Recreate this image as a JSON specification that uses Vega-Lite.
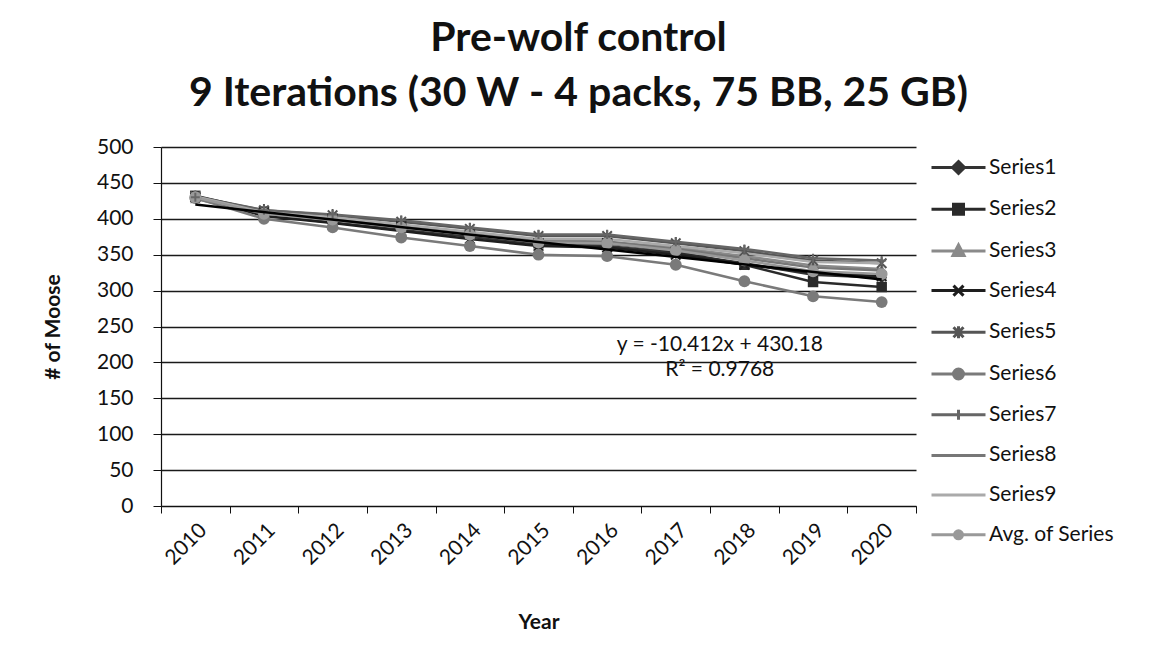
{
  "$schema": "https://vega.github.io/schema/vega-lite/v6.json",
  "width": 755,
  "height": 359,
  "autosize": {"type": "none"},
  "padding": {"left": 161, "top": 147, "right": 259, "bottom": 147},
  "background": "white",
  "config": {
    "font": "Lato",
    "view": {"stroke": null},
    "legend": {"symbolOpacity": 1}
  },
  "title": {
    "text": ["Pre-wolf control", "9 Iterations (30 W - 4 packs, 75 BB, 25 GB)"],
    "fontSize": 41,
    "fontWeight": "bold",
    "font": "Lato",
    "color": "#111111",
    "anchor": "middle",
    "frame": "group",
    "dx": 40,
    "offset": 21,
    "lineHeight": 55
  },
  "datasets": {
    "series": [
      {"Year": "2010", "Series": "Series1", "Moose": 430}, {"Year": "2011", "Series": "Series1", "Moose": 405}, {"Year": "2012", "Series": "Series1", "Moose": 395}, {"Year": "2013", "Series": "Series1", "Moose": 385}, {"Year": "2014", "Series": "Series1", "Moose": 375}, {"Year": "2015", "Series": "Series1", "Moose": 364}, {"Year": "2016", "Series": "Series1", "Moose": 362}, {"Year": "2017", "Series": "Series1", "Moose": 352}, {"Year": "2018", "Series": "Series1", "Moose": 338}, {"Year": "2019", "Series": "Series1", "Moose": 322}, {"Year": "2020", "Series": "Series1", "Moose": 318},
      {"Year": "2010", "Series": "Series2", "Moose": 432}, {"Year": "2011", "Series": "Series2", "Moose": 410}, {"Year": "2012", "Series": "Series2", "Moose": 400}, {"Year": "2013", "Series": "Series2", "Moose": 390}, {"Year": "2014", "Series": "Series2", "Moose": 378}, {"Year": "2015", "Series": "Series2", "Moose": 366}, {"Year": "2016", "Series": "Series2", "Moose": 366}, {"Year": "2017", "Series": "Series2", "Moose": 354}, {"Year": "2018", "Series": "Series2", "Moose": 336}, {"Year": "2019", "Series": "Series2", "Moose": 312}, {"Year": "2020", "Series": "Series2", "Moose": 305},
      {"Year": "2010", "Series": "Series3", "Moose": 428}, {"Year": "2011", "Series": "Series3", "Moose": 406}, {"Year": "2012", "Series": "Series3", "Moose": 398}, {"Year": "2013", "Series": "Series3", "Moose": 388}, {"Year": "2014", "Series": "Series3", "Moose": 378}, {"Year": "2015", "Series": "Series3", "Moose": 368}, {"Year": "2016", "Series": "Series3", "Moose": 368}, {"Year": "2017", "Series": "Series3", "Moose": 360}, {"Year": "2018", "Series": "Series3", "Moose": 348}, {"Year": "2019", "Series": "Series3", "Moose": 335}, {"Year": "2020", "Series": "Series3", "Moose": 330},
      {"Year": "2010", "Series": "Series4", "Moose": 430}, {"Year": "2011", "Series": "Series4", "Moose": 404}, {"Year": "2012", "Series": "Series4", "Moose": 394}, {"Year": "2013", "Series": "Series4", "Moose": 383}, {"Year": "2014", "Series": "Series4", "Moose": 372}, {"Year": "2015", "Series": "Series4", "Moose": 362}, {"Year": "2016", "Series": "Series4", "Moose": 360}, {"Year": "2017", "Series": "Series4", "Moose": 350}, {"Year": "2018", "Series": "Series4", "Moose": 336}, {"Year": "2019", "Series": "Series4", "Moose": 325}, {"Year": "2020", "Series": "Series4", "Moose": 320},
      {"Year": "2010", "Series": "Series5", "Moose": 431}, {"Year": "2011", "Series": "Series5", "Moose": 412}, {"Year": "2012", "Series": "Series5", "Moose": 405}, {"Year": "2013", "Series": "Series5", "Moose": 396}, {"Year": "2014", "Series": "Series5", "Moose": 386}, {"Year": "2015", "Series": "Series5", "Moose": 376}, {"Year": "2016", "Series": "Series5", "Moose": 376}, {"Year": "2017", "Series": "Series5", "Moose": 366}, {"Year": "2018", "Series": "Series5", "Moose": 355}, {"Year": "2019", "Series": "Series5", "Moose": 342}, {"Year": "2020", "Series": "Series5", "Moose": 338},
      {"Year": "2010", "Series": "Series6", "Moose": 429}, {"Year": "2011", "Series": "Series6", "Moose": 400}, {"Year": "2012", "Series": "Series6", "Moose": 388}, {"Year": "2013", "Series": "Series6", "Moose": 374}, {"Year": "2014", "Series": "Series6", "Moose": 362}, {"Year": "2015", "Series": "Series6", "Moose": 350}, {"Year": "2016", "Series": "Series6", "Moose": 348}, {"Year": "2017", "Series": "Series6", "Moose": 336}, {"Year": "2018", "Series": "Series6", "Moose": 313}, {"Year": "2019", "Series": "Series6", "Moose": 292}, {"Year": "2020", "Series": "Series6", "Moose": 284},
      {"Year": "2010", "Series": "Series7", "Moose": 430}, {"Year": "2011", "Series": "Series7", "Moose": 412}, {"Year": "2012", "Series": "Series7", "Moose": 406}, {"Year": "2013", "Series": "Series7", "Moose": 398}, {"Year": "2014", "Series": "Series7", "Moose": 388}, {"Year": "2015", "Series": "Series7", "Moose": 378}, {"Year": "2016", "Series": "Series7", "Moose": 378}, {"Year": "2017", "Series": "Series7", "Moose": 368}, {"Year": "2018", "Series": "Series7", "Moose": 358}, {"Year": "2019", "Series": "Series7", "Moose": 345}, {"Year": "2020", "Series": "Series7", "Moose": 342},
      {"Year": "2010", "Series": "Series8", "Moose": 430}, {"Year": "2011", "Series": "Series8", "Moose": 408}, {"Year": "2012", "Series": "Series8", "Moose": 400}, {"Year": "2013", "Series": "Series8", "Moose": 390}, {"Year": "2014", "Series": "Series8", "Moose": 380}, {"Year": "2015", "Series": "Series8", "Moose": 370}, {"Year": "2016", "Series": "Series8", "Moose": 368}, {"Year": "2017", "Series": "Series8", "Moose": 358}, {"Year": "2018", "Series": "Series8", "Moose": 345}, {"Year": "2019", "Series": "Series8", "Moose": 332}, {"Year": "2020", "Series": "Series8", "Moose": 328},
      {"Year": "2010", "Series": "Series9", "Moose": 431}, {"Year": "2011", "Series": "Series9", "Moose": 409}, {"Year": "2012", "Series": "Series9", "Moose": 402}, {"Year": "2013", "Series": "Series9", "Moose": 392}, {"Year": "2014", "Series": "Series9", "Moose": 382}, {"Year": "2015", "Series": "Series9", "Moose": 372}, {"Year": "2016", "Series": "Series9", "Moose": 372}, {"Year": "2017", "Series": "Series9", "Moose": 362}, {"Year": "2018", "Series": "Series9", "Moose": 352}, {"Year": "2019", "Series": "Series9", "Moose": 340}, {"Year": "2020", "Series": "Series9", "Moose": 338},
      {"Year": "2010", "Series": "Avg. of Series", "Moose": 430}, {"Year": "2011", "Series": "Avg. of Series", "Moose": 407}, {"Year": "2012", "Series": "Avg. of Series", "Moose": 399}, {"Year": "2013", "Series": "Avg. of Series", "Moose": 388}, {"Year": "2014", "Series": "Avg. of Series", "Moose": 378}, {"Year": "2015", "Series": "Avg. of Series", "Moose": 367}, {"Year": "2016", "Series": "Avg. of Series", "Moose": 366}, {"Year": "2017", "Series": "Avg. of Series", "Moose": 356}, {"Year": "2018", "Series": "Avg. of Series", "Moose": 342}, {"Year": "2019", "Series": "Avg. of Series", "Moose": 327}, {"Year": "2020", "Series": "Avg. of Series", "Moose": 323}
    ],
    "trend": [
      {"Year": "2010", "Moose": 419.8},
      {"Year": "2020", "Moose": 315.6}
    ],
    "notes": [
      {"Year": "2017", "Moose": 224, "label": "y = -10.412x + 430.18"},
      {"Year": "2017", "Moose": 189, "label": "R² = 0.9768"}
    ]
  },
  "encoding": {
    "x": {
      "field": "Year",
      "type": "ordinal",
      "bandPosition": 0.5,
      "scale": {"type": "band", "paddingInner": 0, "paddingOuter": 0},
      "axis": {
        "title": "Year",
        "titleFontSize": 21,
        "titleFontWeight": "bold",
        "titleColor": "#111111",
        "titlePadding": 43,
        "labelAngle": -45,
        "labelFontSize": 21,
        "labelColor": "#111111",
        "labelPadding": 6,
        "tickBand": "extent",
        "tickSize": 7,
        "tickColor": "#111111",
        "domainColor": "#111111",
        "domainWidth": 1.2,
        "grid": false
      }
    },
    "y": {
      "field": "Moose",
      "type": "quantitative",
      "scale": {"domain": [0, 500], "nice": false, "zero": true},
      "axis": {
        "title": "# of Moose",
        "titleFontSize": 21,
        "titleFontWeight": "bold",
        "titleColor": "#111111",
        "titlePadding": 33,
        "values": [0, 50, 100, 150, 200, 250, 300, 350, 400, 450, 500],
        "labelFontSize": 21,
        "labelColor": "#111111",
        "labelPadding": 20,
        "tickSize": 8,
        "tickColor": "#111111",
        "domainColor": "#111111",
        "domainWidth": 1.2,
        "grid": true,
        "gridColor": "#1a1a1a",
        "gridWidth": 1.3
      }
    }
  },
  "layer": [
    {
      "data": {"name": "series"},
      "mark": {"type": "point", "filled": true, "opacity": 0},
      "encoding": {
        "color": {
          "field": "Series",
          "type": "nominal",
          "scale": {
            "domain": ["Series1", "Series2", "Series3", "Series4", "Series5", "Series6", "Series7", "Series8", "Series9", "Avg. of Series"],
            "range": ["#333333", "#2a2a2a", "#8a8a8a", "#1e1e1e", "#555555", "#7a7a7a", "#666666", "#777777", "#aaaaaa", "#999999"]
          },
          "legend": {
            "title": null,
            "orient": "none",
            "legendX": 786,
            "legendY": 9,
            "labelFontSize": 21,
            "labelColor": "#111111",
            "labelOffset": 19,
            "symbolSize": 400,
            "symbolStrokeWidth": 3,
            "symbolOpacity": 1,
            "rowPadding": 17.7,
            "encode": {
              "symbols": {"update": {"stroke": {"scale": "color", "field": "value"}}}
            }
          }
        },
        "shape": {
          "field": "Series",
          "type": "nominal",
          "scale": {
            "domain": ["Series1", "Series2", "Series3", "Series4", "Series5", "Series6", "Series7", "Series8", "Series9", "Avg. of Series"],
            "range": [
              "M-2.7,0H2.7M0,-0.6L0.6,0L0,0.6L-0.6,0Z",
              "M-2.7,0H2.7M-0.5,-0.5H0.5V0.5H-0.5Z",
              "M-2.7,0H2.7M0,-0.6L0.55,0.45H-0.55Z",
              "M-2.7,0H2.7M-0.5,-0.5L0.5,0.5M0.5,-0.5L-0.5,0.5",
              "M-2.7,0H2.7M-0.5,-0.5L0.5,0.5M0.5,-0.5L-0.5,0.5M0,-0.6V0.6",
              "M-2.7,0H2.7M-0.5,0A0.5,0.5 0 1,0 0.5,0A0.5,0.5 0 1,0 -0.5,0Z",
              "M-2.7,0H2.7M0,-0.5V0.5",
              "M-2.7,0H2.7",
              "M-2.7,0H2.7",
              "M-2.7,0H2.7M-0.4,0A0.4,0.4 0 1,0 0.4,0A0.4,0.4 0 1,0 -0.4,0Z"
            ]
          }
        }
      }
    },
    {
      "data": {"name": "series"},
      "mark": {"type": "line", "strokeWidth": 2.5},
      "encoding": {
        "color": {"field": "Series", "type": "nominal", "legend": null},
        "detail": {"field": "Series", "type": "nominal"}
      }
    },
    {
      "data": {"name": "series"},
      "transform": [{"filter": {"field": "Series", "equal": "Series1"}}],
      "mark": {"type": "point", "filled": true, "opacity": 1, "shape": "diamond", "size": 120},
      "encoding": {"color": {"field": "Series", "type": "nominal", "legend": null}}
    },
    {
      "data": {"name": "series"},
      "transform": [{"filter": {"field": "Series", "equal": "Series2"}}],
      "mark": {"type": "point", "filled": true, "opacity": 1, "shape": "square", "size": 110},
      "encoding": {"color": {"field": "Series", "type": "nominal", "legend": null}}
    },
    {
      "data": {"name": "series"},
      "transform": [{"filter": {"field": "Series", "equal": "Series3"}}],
      "mark": {"type": "point", "filled": true, "opacity": 1, "shape": "triangle-up", "size": 110},
      "encoding": {"color": {"field": "Series", "type": "nominal", "legend": null}}
    },
    {
      "data": {"name": "series"},
      "transform": [{"filter": {"field": "Series", "equal": "Series4"}}],
      "mark": {"type": "point", "filled": false, "opacity": 1, "strokeWidth": 2, "shape": "M-1,-1L1,1M1,-1L-1,1", "size": 90},
      "encoding": {"color": {"field": "Series", "type": "nominal", "legend": null}}
    },
    {
      "data": {"name": "series"},
      "transform": [{"filter": {"field": "Series", "equal": "Series5"}}],
      "mark": {"type": "point", "filled": false, "opacity": 1, "strokeWidth": 2, "shape": "M-1,-1L1,1M1,-1L-1,1M0,-1.3V1.3", "size": 90},
      "encoding": {"color": {"field": "Series", "type": "nominal", "legend": null}}
    },
    {
      "data": {"name": "series"},
      "transform": [{"filter": {"field": "Series", "oneOf": ["Series6", "Avg. of Series"]}}],
      "mark": {"type": "point", "filled": true, "opacity": 1, "shape": "circle", "size": 140},
      "encoding": {"color": {"field": "Series", "type": "nominal", "legend": null}}
    },
    {
      "data": {"name": "series"},
      "transform": [{"filter": {"field": "Series", "equal": "Series7"}}],
      "mark": {"type": "point", "filled": false, "opacity": 1, "strokeWidth": 2, "shape": "M-1,0H1M0,-1V1", "size": 80},
      "encoding": {"color": {"field": "Series", "type": "nominal", "legend": null}}
    },
    {
      "data": {"name": "trend"},
      "mark": {"type": "line", "color": "#000000", "strokeWidth": 2.5},
      "encoding": {}
    },
    {
      "data": {"name": "notes"},
      "mark": {"type": "text", "fontSize": 21, "color": "#111111", "dx": 44, "align": "center", "baseline": "middle"},
      "encoding": {"text": {"field": "label", "type": "nominal"}}
    }
  ]
}
